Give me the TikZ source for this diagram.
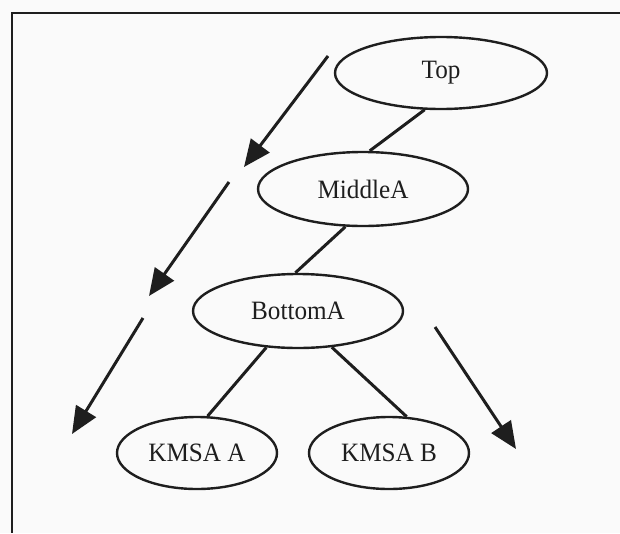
\documentclass[tikz,border=0pt]{standalone}
\usepackage{fontspec}
\setmainfont{Liberation Serif}[FakeStretch=0.95]
\usetikzlibrary{shapes.geometric,arrows.meta}
\definecolor{ink}{HTML}{1E1E1E}
\tikzset{
  oval/.style={ellipse, draw=ink, line width=2.4pt, inner sep=0pt,
    minimum width=210pt, minimum height=74pt,
    font=\fontsize{26.5}{28}\selectfont, text=ink},
  leaf/.style={oval, minimum width=160pt, minimum height=72pt},
  link/.style={draw=ink, line width=3pt},
  flow/.style={draw=ink, line width=3pt,
    -{Triangle[length=27pt,width=23pt]}}
}
\begin{document}
\begin{tikzpicture}[x=1pt,y=-1pt]
  \useasboundingbox (0,0) rectangle (620,533);
  \fill[white!98!black] (0,0) rectangle (620,533);
  % frame
  \draw[ink, line width=2pt] (620,13) -- (12,13) -- (12,533);

  % tree nodes
  \node[oval, minimum width=212pt, minimum height=72pt] (top) at (441,73) {Top};
  \node[oval] (mid) at (363,189) {MiddleA};
  \node[oval] (bot) at (298,311) {BottomA};
  \node[leaf] (ka) at (197,453) {KMSA A};
  \node[leaf] (kb) at (389,453) {KMSA B};

  % tree links
  \draw[link] (top.-114) -- (mid.80);
  \draw[link] (mid.-115) -- (bot.94);
  \draw[link] (bot.-131) -- (ka.74);
  \draw[link] (bot.-47) -- (kb.64);

  % direction arrows
  \coordinate (a1s) at (328,56);  \coordinate (a1e) at (244,167);
  \coordinate (a2s) at (229,182); \coordinate (a2e) at (149,296);
  \coordinate (a3s) at (143,318); \coordinate (a3e) at (72,434);
  \coordinate (a4s) at (435,327); \coordinate (a4e) at (516,449);
  \draw[flow] (a1s) -- (a1e);
  \draw[flow] (a2s) -- (a2e);
  \draw[flow] (a3s) -- (a3e);
  \draw[flow] (a4s) -- (a4e);
\end{tikzpicture}
\end{document}
